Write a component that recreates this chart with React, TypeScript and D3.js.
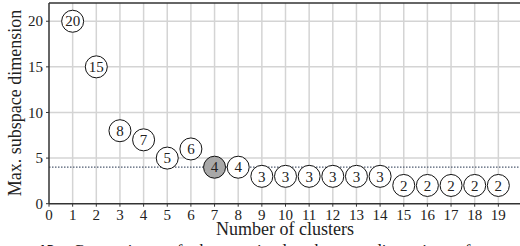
import React from "react";
import * as d3 from "d3";

const clusters = [1, 2, 3, 4, 5, 6, 7, 8, 9, 10, 11, 12, 13, 14, 15, 16, 17, 18, 19];
const maxDim = [20, 15, 8, 7, 5, 6, 4, 4, 3, 3, 3, 3, 3, 3, 2, 2, 2, 2, 2];
const highlighted = [7];
const xTicks = [0, 1, 2, 3, 4, 5, 6, 7, 8, 9, 10, 11, 12, 13, 14, 15, 16, 17, 18, 19];
const yTicks = [0, 5, 10, 15, 20];
const xGrid = [1, 2, 3, 4, 5, 6, 7, 8, 9, 10, 11, 12, 13, 14, 15, 16, 17, 18, 19, 20];
const yGrid = [5, 10, 15, 20];
const threshold = 4;

const W = 520;
const H = 246;
const tf = { fontFamily: "Liberation Serif" };

export default function App() {
  const x = d3.scaleLinear().domain([0, 20]).range([49, 522]);
  const y = d3.scaleLinear().domain([0, 22]).range([203.7, 3]);
  const r = 11;

  return (
    <svg width={W} height={H} style={{ position: "absolute", left: 0, top: 0, display: "block" }}>
      <rect x={0} y={0} width={W} height={H} fill="#fff" />
      {xGrid.map((v) => (
        <line key={"gx" + v} x1={x(v)} x2={x(v)} y1={y(22)} y2={y(0)} stroke="#d4d4d4" strokeWidth={1.5} />
      ))}
      {yGrid.map((v) => (
        <line key={"gy" + v} x1={x(0)} x2={W} y1={y(v)} y2={y(v)} stroke="#d4d4d4" strokeWidth={1.5} />
      ))}
      <line
        x1={x(0)}
        x2={W}
        y1={y(threshold)}
        y2={y(threshold)}
        stroke="#4f5b70"
        strokeWidth={1.2}
        strokeDasharray="1.5 1.5"
      />
      <line x1={x(0)} x2={W} y1={y(22)} y2={y(22)} stroke="#333" strokeWidth={1.5} />
      <line x1={x(0)} x2={W} y1={y(0)} y2={y(0)} stroke="#333" strokeWidth={1.5} />
      <line x1={x(0)} x2={x(0)} y1={y(22)} y2={y(0)} stroke="#333" strokeWidth={1.5} />
      {yTicks.map((v) => (
        <g key={"yt" + v}>
          <line x1={x(0) - 3} x2={x(0)} y1={y(v)} y2={y(v)} stroke="#333" strokeWidth={1} />
          <text style={tf} x={x(0) - 6} y={y(v)} dy="0.34em" textAnchor="end" fontSize={15} fill="#222">
            {v}
          </text>
        </g>
      ))}
      {xTicks.map((v) => (
        <g key={"xt" + v}>
          <line x1={x(v)} x2={x(v)} y1={y(0)} y2={y(0) + 3} stroke="#333" strokeWidth={1} />
          <text style={tf} x={x(v)} y={220} textAnchor="middle" fontSize={15} fill="#222">
            {v}
          </text>
        </g>
      ))}
      <text style={tf} x={285} y={235} textAnchor="middle" fontSize={18} fill="#222">
        Number of clusters
      </text>
      <text
        style={tf}
        transform={`translate(21,103) rotate(-90)`}
        textAnchor="middle"
        fontSize={18}
        fill="#222"
      >
        Max. subspace dimension
      </text>
      {clusters.map((c, i) => (
        <g key={"p" + c}>
          <circle
            cx={x(c)}
            cy={y(maxDim[i])}
            r={r}
            fill={highlighted.includes(c) ? "#a8a8a8" : "#fff"}
            stroke="#111"
            strokeWidth={1}
          />
          <text style={tf} x={x(c)} y={y(maxDim[i])} dy="0.35em" textAnchor="middle" fontSize={15} fill="#222">
            {maxDim[i]}
          </text>
        </g>
      ))}
      <text style={tf} x={-22} y={256} fontSize={17} fill="#111" wordSpacing={8}>
        <tspan fontWeight="bold">Figure 12:</tspan> Comparison of the maximal subspace dimension of
      </text>
    </svg>
  );
}
